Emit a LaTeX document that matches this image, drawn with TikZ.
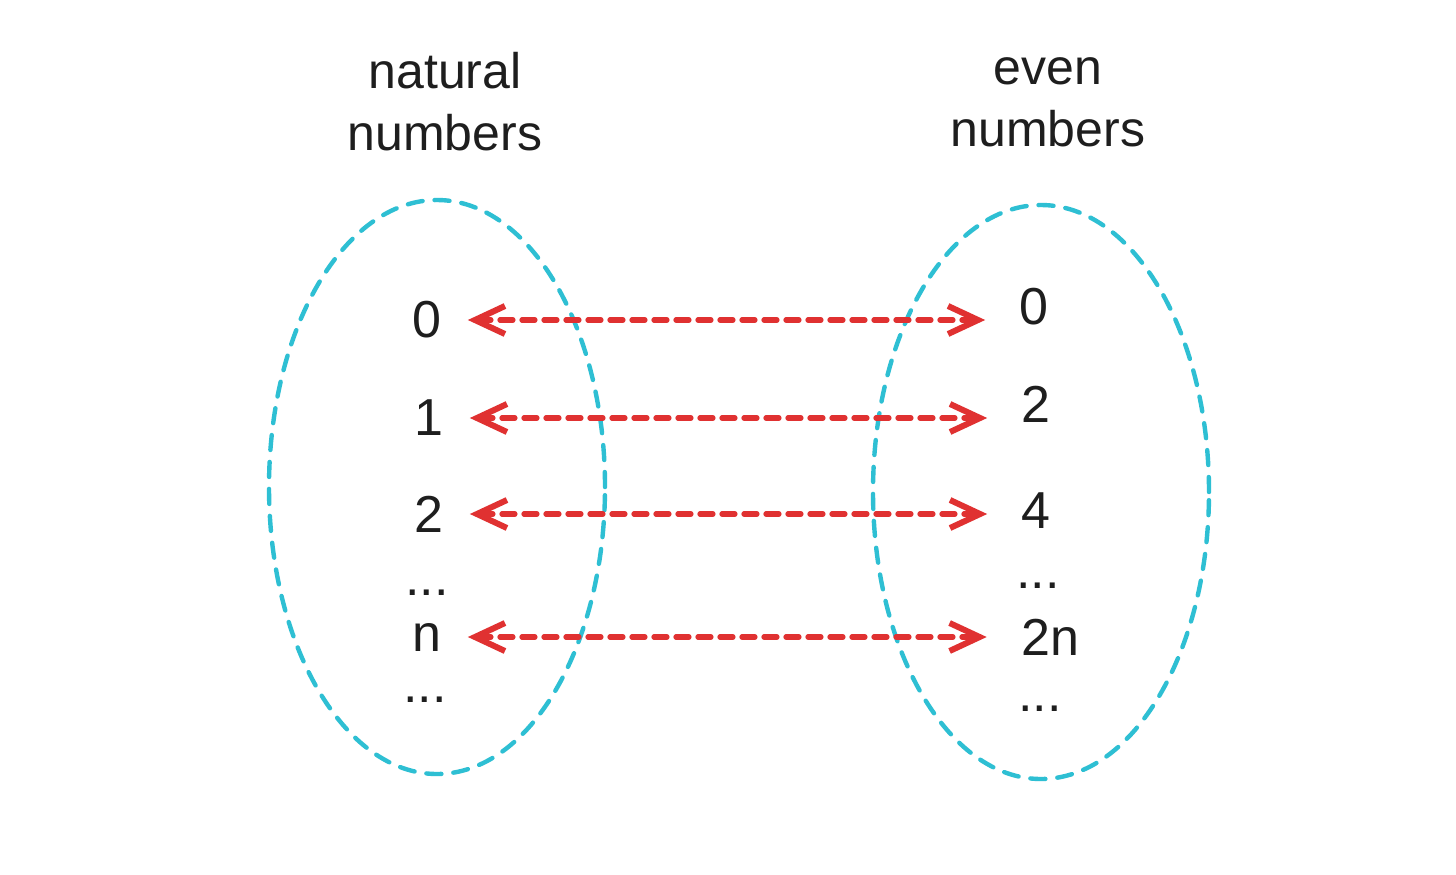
\documentclass[tikz,border=0pt]{standalone}
\usepackage{xcolor}
\usepackage{fontspec}
\setmainfont{Liberation Sans}
\usetikzlibrary{arrows.meta}
\definecolor{setcyan}{HTML}{2EBFD3}
\definecolor{mapred}{HTML}{E03131}
\definecolor{inkblack}{HTML}{1E1E1E}

\tikzset{
  setline/.style={draw=setcyan,line width=2.2pt,line cap=round,dash pattern=on 7.5pt off 6pt},
  num/.style={text=inkblack,inner sep=0pt,font=\fontsize{26}{31}\selectfont},
  title/.style={text=inkblack,align=center,font=\fontsize{25}{31}\selectfont},
  maparrow/.style={draw=mapred,line width=2.6pt,line cap=round,dash pattern=on 6.5pt off 4.5pt,
    {Straight Barb[length=15pt,width=14pt,line width=3pt]}-{Straight Barb[length=15pt,width=14pt,line width=3pt]},
    shorten <=13pt,shorten >=17pt}
}

\begin{document}
\begin{tikzpicture}[x=0.5pt,y=-0.5pt]
  \useasboundingbox[fill=white] (0,0) rectangle (1456,874);
  \draw[setline] (437,487) ellipse [x radius=84pt,y radius=143.5pt];
  \draw[setline] (1041,492) ellipse [x radius=84pt,y radius=143.5pt];
  \node[title] (natural) at (445,102) {natural\\numbers};
  \node[title] (even) at (1048,102) {even\\numbers};
  \node[num] (n0) at (427,320) {0};
  \node[num] (n1) at (429,418) {1};
  \node[num] (n2) at (429,514) {2};
  \node[num] (ndots) at (427,593) {...};
  \node[num] (nn) at (427,637) {n};
  \node[num] (nmore) at (425,700) {...};
  \node[num] (e0) at (1034,307) {0};
  \node[num] (e2) at (1036,404) {2};
  \node[num] (e4) at (1036,511) {4};
  \node[num] (edots) at (1038,586) {...};
  \node[num] (e2n) at (1050,637) {2n};
  \node[num] (emore) at (1040,709) {...};
  \draw[maparrow] (n0.east) -- (n0.east -| e0.west);
  \draw[maparrow] (n1.east) -- (n1.east -| e2.west);
  \draw[maparrow] (n2.east) -- (n2.east -| e4.west);
  \draw[maparrow] (nn.east) -- (nn.east -| e2n.west);
\end{tikzpicture}
\end{document}
